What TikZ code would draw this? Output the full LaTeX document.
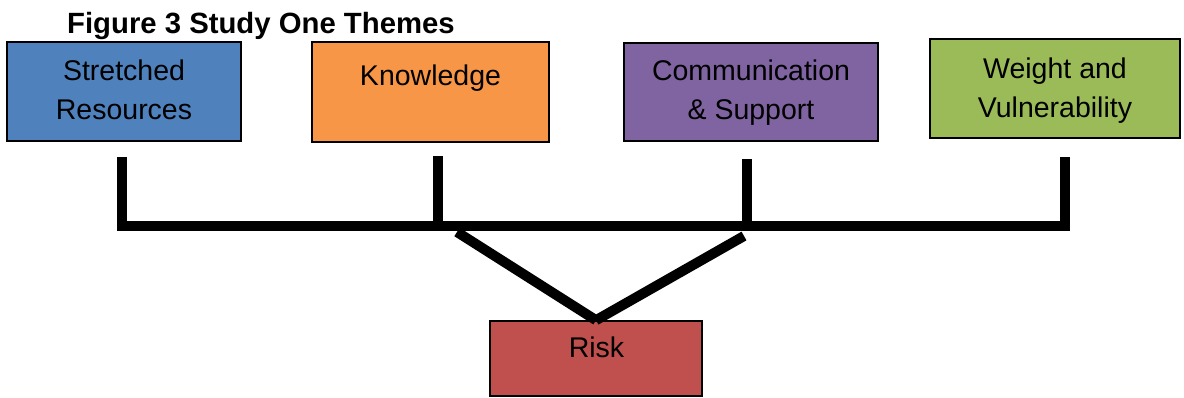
\documentclass[tikz,border=0pt]{standalone}
\usepackage{fontspec}
\setmainfont{Liberation Sans}
\definecolor{cblue}{HTML}{4F81BD}
\definecolor{corange}{HTML}{F79646}
\definecolor{cpurple}{HTML}{8064A2}
\definecolor{cgreen}{HTML}{9BBB59}
\definecolor{cred}{HTML}{C0504D}
\tikzset{
  themebox/.style={draw=black, line width=1.6pt, rectangle, inner sep=0pt},
  lbl/.style={align=center, inner sep=0pt, font=\fontsize{28.5}{39}\selectfont},
  bar/.style={draw=black, line width=10pt, line cap=butt, line join=miter},
}
\begin{document}
\begin{tikzpicture}[x=1pt, y=-1pt]
\useasboundingbox (0,0) rectangle (1184,397);
% title
\node[anchor=base west, inner sep=0pt, font=\fontsize{29.3}{34}\selectfont\bfseries] (title) at (67,33.5) {Figure 3 Study One Themes};
% boxes
\node[themebox, fill=cblue, minimum width=234pt, minimum height=99pt] (b1) at (124,91.5) {};
\node[themebox, fill=corange, minimum width=237pt, minimum height=100pt] (b2) at (430.5,92) {};
\node[themebox, fill=cpurple, minimum width=254pt, minimum height=98pt] (b3) at (751,92) {};
\node[themebox, fill=cgreen, minimum width=250pt, minimum height=99pt] (b4) at (1055,88.5) {};
\node[themebox, fill=cred, minimum width=212pt, minimum height=75pt] (risk) at (596,358.5) {};
% labels
\node[lbl] (t1) at (124,89.5) {Stretched\\Resources};
\node[lbl] (t2) at (430.5,77.8) {Knowledge};
\node[lbl] (t3) at (751,92.6) {Communication\\\& Support};
\node[lbl] (t4) at (1055,90.5) {Weight and\\Vulnerability};
\node[lbl] (t5) at (596.5,347.8) {Risk};
% connector coordinates
\coordinate (v1) at (122,157);
\coordinate (v2) at (438,156);
\coordinate (v3) at (747,159);
\coordinate (v4) at (1065,157);
\coordinate (h1) at (122,226);
\coordinate (h2) at (438,221);
\coordinate (h3) at (747,221);
\coordinate (h4) at (1065,226);
\coordinate (d1) at (457,232);
\coordinate (d2) at (744,236);
% connectors
\draw[bar] (v1) -- (h1) -- (h4) -- (v4);
\draw[bar] (v2) -- (h2);
\draw[bar] (v3) -- (h3);
\draw[bar] (d1) -- (risk.north);
\draw[bar] (d2) -- (risk.north);
\end{tikzpicture}
\end{document}
